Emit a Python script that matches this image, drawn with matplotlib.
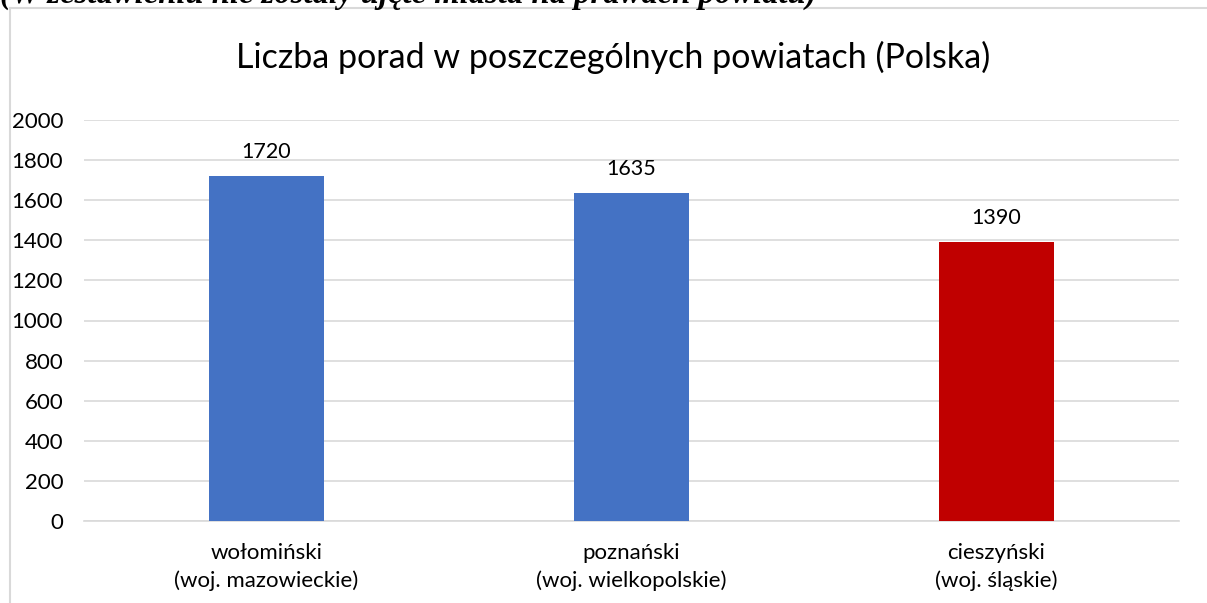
import matplotlib.pyplot as plt
from matplotlib.lines import Line2D
import numpy as np

categories = ['wołomiński\n(woj. mazowieckie)',
              'poznański\n(woj. wielkopolskie)',
              'cieszyński\n(woj. śląskie)']
values = [1720, 1635, 1390]
colors = ['#4472C4', '#4472C4', '#C00000']
yticks = list(range(0, 2001, 200))

plt.rcParams['font.family'] = ['Lato', 'DejaVu Sans']

fig = plt.figure(figsize=(12.07, 6.03), dpi=100)
W, H = 1207, 603
# plot area in pixels: x 84..1179, y 120..521
ax = fig.add_axes([84 / W, 1 - 521 / H, (1179 - 84) / W, (521 - 120) / H])

x = np.arange(len(values))
bars = ax.bar(x, values, width=0.315, color=colors, zorder=3)
for xi, v in zip(x, values):
    ax.text(xi, v + 70, str(v), ha='center', va='bottom', fontsize=15.5,
            color='#000000')

ax.set_xlim(-0.5, 2.5)
ax.set_ylim(0, 2000)
ax.set_yticks(yticks)
ax.set_xticks(x)
ax.set_xticklabels(categories, fontsize=16, linespacing=1.45)
ax.tick_params(axis='y', labelsize=16, length=0, pad=15)
ax.tick_params(axis='x', length=0, pad=16)
ax.grid(axis='y', color='#D9D9D9', lw=1.2, zorder=0)
for s in ['top', 'right', 'left']:
    ax.spines[s].set_visible(False)
ax.spines['bottom'].set_color('#D9D9D9')
ax.spines['bottom'].set_linewidth(1.2)

fig.text(613 / W, 1 - 57 / H, 'Liczba porad w poszczególnych powiatach (Polska)',
         ha='center', va='center', fontsize=24.5, color='#000000')

# chart frame
fig.add_artist(Line2D([9.5 / W, 9.5 / W], [0, 1 - 7.5 / H], color='#D9D9D9', lw=1.5))
fig.add_artist(Line2D([9.5 / W, 1], [1 - 7.5 / H, 1 - 7.5 / H], color='#D9D9D9', lw=1.5))

# note line above the chart, partly cut off at the top edge
fig.text(0, 1 - 3 / H, '(W zestawieniu nie zostały ujęte miasta na prawach powiatu)',
         ha='left', va='baseline', fontsize=23.5, fontweight='bold', fontstyle='italic',
         family=['Liberation Serif', 'DejaVu Serif'])

plt.savefig('out.png', dpi=100)
